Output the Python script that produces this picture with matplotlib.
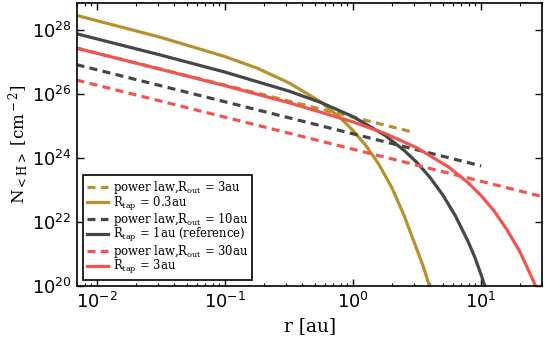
import matplotlib
matplotlib.use('Agg')

import matplotlib.pyplot as plt
from matplotlib.font_manager import FontProperties
from matplotlib.ticker import LogLocator, NullLocator

plt.rcParams['axes.unicode_minus'] = False
plt.rcParams['mathtext.fontset'] = 'dejavusans'

# ===== data =====
# tapered profiles (solid)
r_tap03 = [0.0069, 0.0316, 0.1, 0.178, 0.316, 0.562, 0.794, 1.0, 1.26, 1.58, 2.0, 2.51, 3.16, 3.55, 3.98, 4.17]
n_tap03 = [2.82e28, 5.75e27, 1.45e27, 6.31e26, 2.19e26, 5.50e25, 1.78e25, 7.08e24, 2.40e24, 6.46e23,
           1.20e23, 1.51e22, 1.32e21, 3.8e20, 8.7e19, 4.47e19]

r_tap1 = [0.0069, 0.0316, 0.1, 0.316, 0.562, 1.0, 1.78, 2.51, 3.16, 3.98, 5.01, 6.31, 7.94, 8.91, 10.0, 11.2]
n_tap1 = [7.53e27, 1.61e27, 4.75e26, 1.21e26, 5.32e25, 1.93e25, 4.99e24, 1.69e24, 7.03e23, 2.46e23,
          6.97e22, 1.51e22, 2.34e21, 7.93e20, 2.2e20, 5.5e19]

r_tap3 = [0.0069, 0.0316, 0.1, 0.316, 1.0, 1.78, 3.16, 5.62, 7.94, 10.0, 12.6, 15.8, 20.0, 25.1, 28.2]
n_tap3 = [2.67e27, 5.78e26, 1.79e26, 5.26e25, 1.32e25, 5.75e24, 2.04e24, 5.05e23, 1.65e23, 6.59e22,
          2.21e22, 5.93e21, 1.20e21, 1.70e20, 5.46e19]

# power laws (dashed)
r_pl3 = [0.0069, 0.1, 1.0, 3.0]
n_pl3 = [2.69e27, 1.86e26, 1.86e25, 6.21e24]

r_pl10 = [0.0069, 0.1, 1.0, 10.0]
n_pl10 = [8.13e26, 5.62e25, 5.62e24, 5.62e23]

r_pl30 = [0.0069, 0.1, 1.0, 30.0]
n_pl30 = [2.69e26, 1.86e25, 1.86e24, 6.17e22]

gold = '#b5922e'
grey = '#464646'
red = '#f25450'

fig = plt.figure(figsize=(5.45, 3.38), dpi=100)
ax = fig.add_axes([0.1418, 0.154, 0.8532, 0.838])

lw = 2.3
dash = (0, (2.5, 1.7))
ax.plot(r_pl3, n_pl3, color=gold, lw=lw, linestyle=dash, label=r'power law,R$_{\rm out}$ = 3au')
ax.plot(r_tap03, n_tap03, color=gold, lw=lw, label=r'R$_{\rm tap}$ = 0.3au')
ax.plot(r_pl10, n_pl10, color=grey, lw=lw, linestyle=dash, label=r'power law,R$_{\rm out}$ = 10au')
ax.plot(r_tap1, n_tap1, color=grey, lw=lw, label=r'R$_{\rm tap}$ = 1au (reference)')
ax.plot(r_pl30, n_pl30, color=red, lw=lw, linestyle=dash, label=r'power law,R$_{\rm out}$ = 30au')
ax.plot(r_tap3, n_tap3, color=red, lw=lw, label=r'R$_{\rm tap}$ = 3au')

ax.set_xscale('log')
ax.set_yscale('log')
ax.set_xlim(7e-3, 30)
ax.set_ylim(1e20, 7e28)

ax.yaxis.set_major_locator(LogLocator(base=100.0))
ax.yaxis.set_minor_locator(NullLocator())

ax.tick_params(which='both', direction='in', top=True, right=True, labelsize=12.8)
ax.tick_params(which='major', length=5, width=1, pad=4)
ax.tick_params(which='minor', length=2.5, width=0.8)
for s in ax.spines.values():
    s.set_linewidth(1.2)

ax.set_xlabel('r [au]', family='DejaVu Serif', fontsize=13.3, labelpad=4)
ax.set_ylabel(r'N$_{\rm <H>}$ [cm$^{\rm -2}$]', family='DejaVu Serif', fontsize=12,
              math_fontfamily='dejavuserif', labelpad=1)

prop = FontProperties(family='DejaVu Serif', size=8.4, math_fontfamily='dejavuserif')
leg = ax.legend(loc='lower left', prop=prop, fancybox=False, edgecolor='black', framealpha=1,
                labelspacing=-0.14, handlelength=1.8, handletextpad=0.4, borderpad=0.35,
                borderaxespad=0.5)
leg.get_frame().set_linewidth(1.2)

plt.savefig('out.png', dpi=100)
